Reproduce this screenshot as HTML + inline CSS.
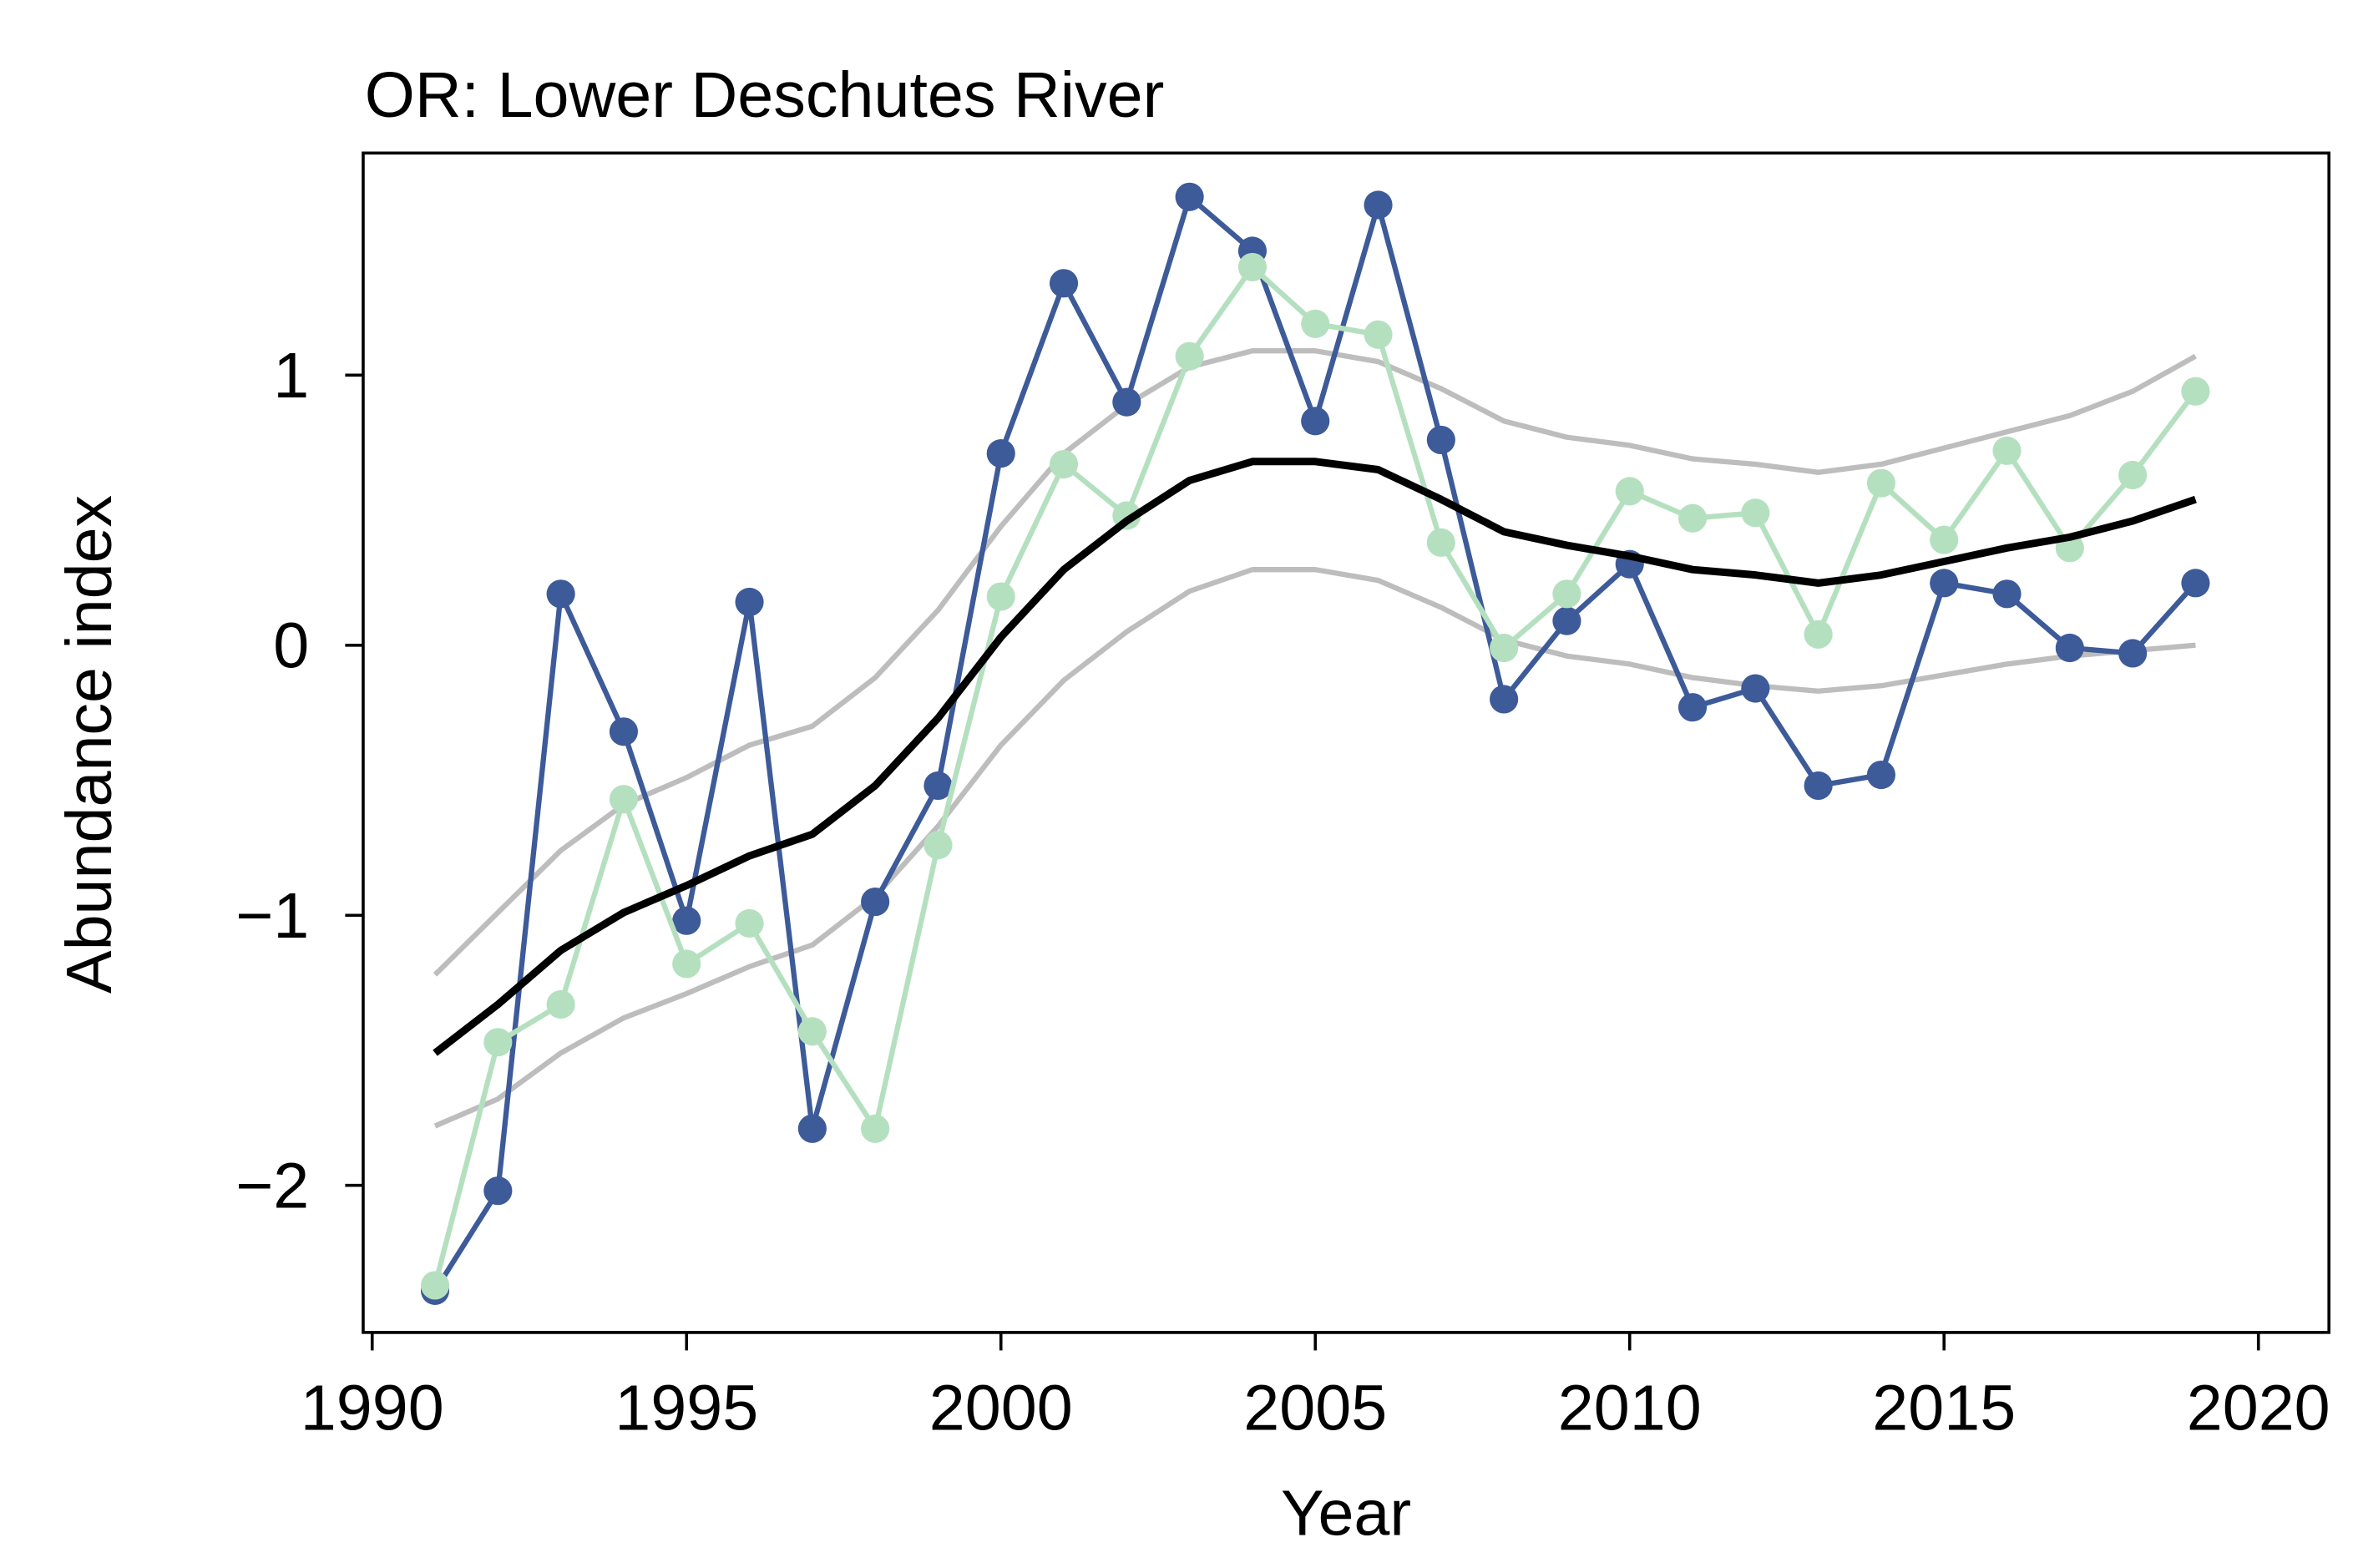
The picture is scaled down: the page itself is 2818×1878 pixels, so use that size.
<!DOCTYPE html>
<html><head><meta charset="utf-8"><style>
html,body{margin:0;padding:0;background:#fff;}
svg{display:block;font-family:"Liberation Sans",Arial,sans-serif;}
</style></head><body>
<svg id="chart" width="2818" height="1878" viewBox="0 0 1568 1045" xmlns="http://www.w3.org/2000/svg">
<text x="243" y="78" font-size="43">OR: Lower Deschutes River</text>
<rect x="242" y="102" width="1310" height="786" fill="none" stroke="#000" stroke-width="2"/>
<g id="axes"></g>
<g id="series"></g>
<text x="897" y="1023" font-size="43" text-anchor="middle">Year</text>
<text transform="translate(74,496) rotate(-90)" font-size="43" text-anchor="middle">Abundance index</text>
</svg>
<script>
const years=[1991,1992,1993,1994,1995,1996,1997,1998,1999,2000,2001,2002,2003,2004,2005,2006,2007,2008,2009,2010,2011,2012,2013,2014,2015,2016,2017,2018,2019];
const observed=[-2.39,-2.02,0.19,-0.32,-1.02,0.16,-1.79,-0.95,-0.52,0.71,1.34,0.90,1.66,1.46,0.83,1.63,0.76,-0.20,0.09,0.30,-0.23,-0.16,-0.52,-0.48,0.23,0.19,-0.01,-0.03,0.23];
const fitted=[-2.37,-1.47,-1.33,-0.57,-1.18,-1.03,-1.43,-1.79,-0.74,0.18,0.67,0.48,1.07,1.40,1.19,1.15,0.38,-0.01,0.19,0.57,0.47,0.49,0.04,0.60,0.39,0.72,0.36,0.63,0.94];
const trend=[-1.51,-1.33,-1.13,-0.99,-0.89,-0.78,-0.70,-0.52,-0.27,0.03,0.28,0.46,0.61,0.68,0.68,0.65,0.54,0.42,0.37,0.33,0.28,0.26,0.23,0.26,0.31,0.36,0.40,0.46,0.54];
const upper=[-1.22,-0.99,-0.76,-0.59,-0.49,-0.37,-0.30,-0.12,0.13,0.44,0.71,0.89,1.03,1.09,1.09,1.05,0.95,0.83,0.77,0.74,0.69,0.67,0.64,0.67,0.73,0.79,0.85,0.94,1.07];
const lower=[-1.78,-1.68,-1.51,-1.38,-1.29,-1.19,-1.11,-0.93,-0.67,-0.37,-0.13,0.05,0.20,0.28,0.28,0.24,0.14,0.02,-0.04,-0.07,-0.12,-0.15,-0.17,-0.15,-0.11,-0.07,-0.04,-0.02,0.00];
const xTicks=[1990,1995,2000,2005,2010,2015,2020];
const yTicks=[-2,-1,0,1];
const yTickLabels=["\u22122","\u22121","0","1"];

const NS="http://www.w3.org/2000/svg";
const xs=y=>248+(y-1990)*(1505-248)/30;
const ys=v=>430-v*180;
function mk(tag,attrs,parent){const e=document.createElementNS(NS,tag);for(const k in attrs)e.setAttribute(k,attrs[k]);parent.appendChild(e);return e;}
const axes=document.getElementById('axes');
const xl=mk('line',{x1:xs(1990),x2:xs(2020),y1:888,y2:888,stroke:'#000','stroke-width':2},axes);


xTicks.forEach(t=>{
  const l=mk('line',{x1:xs(t),x2:xs(t),y1:888,y2:900,stroke:'#000','stroke-width':2},axes);
  
  
  const tx=mk('text',{x:xs(t),y:953,'font-size':43,'text-anchor':'middle'},axes);
  tx.textContent=t;
  
  
});
yTicks.forEach((t,i)=>{
  const l=mk('line',{x1:230,x2:242,y1:ys(t),y2:ys(t),stroke:'#000','stroke-width':2},axes);
  
  
  const tx=mk('text',{x:206,y:ys(t)+15,'font-size':43,'text-anchor':'end'},axes);
  tx.textContent=yTickLabels[i];
  
  
});
const g=document.getElementById('series');
function line(vals,color,w,name){
  const p=mk('polyline',{points:vals.map((v,i)=>xs(years[i])+','+ys(v)).join(' '),fill:'none',stroke:color,'stroke-width':w,'stroke-linejoin':'round'},g);
  
  
}
function pts(vals,color,name){
  vals.forEach((v,i)=>{
    const c=mk('circle',{cx:xs(years[i]),cy:ys(v),r:9.5,fill:color},g);
    
    
  });
}
line(upper,'#bdbdbd',3.5,'upper-ci-line');
line(lower,'#bdbdbd',3.5,'lower-ci-line');
line(observed,'#3d5a99',3.5,'observed-line');
pts(observed,'#3d5a99','observed-point');
line(fitted,'#b5e0c0',3.5,'fitted-line');
pts(fitted,'#b5e0c0','fitted-point');
line(trend,'#000',5,'trend-line');
</script>
</body></html>
